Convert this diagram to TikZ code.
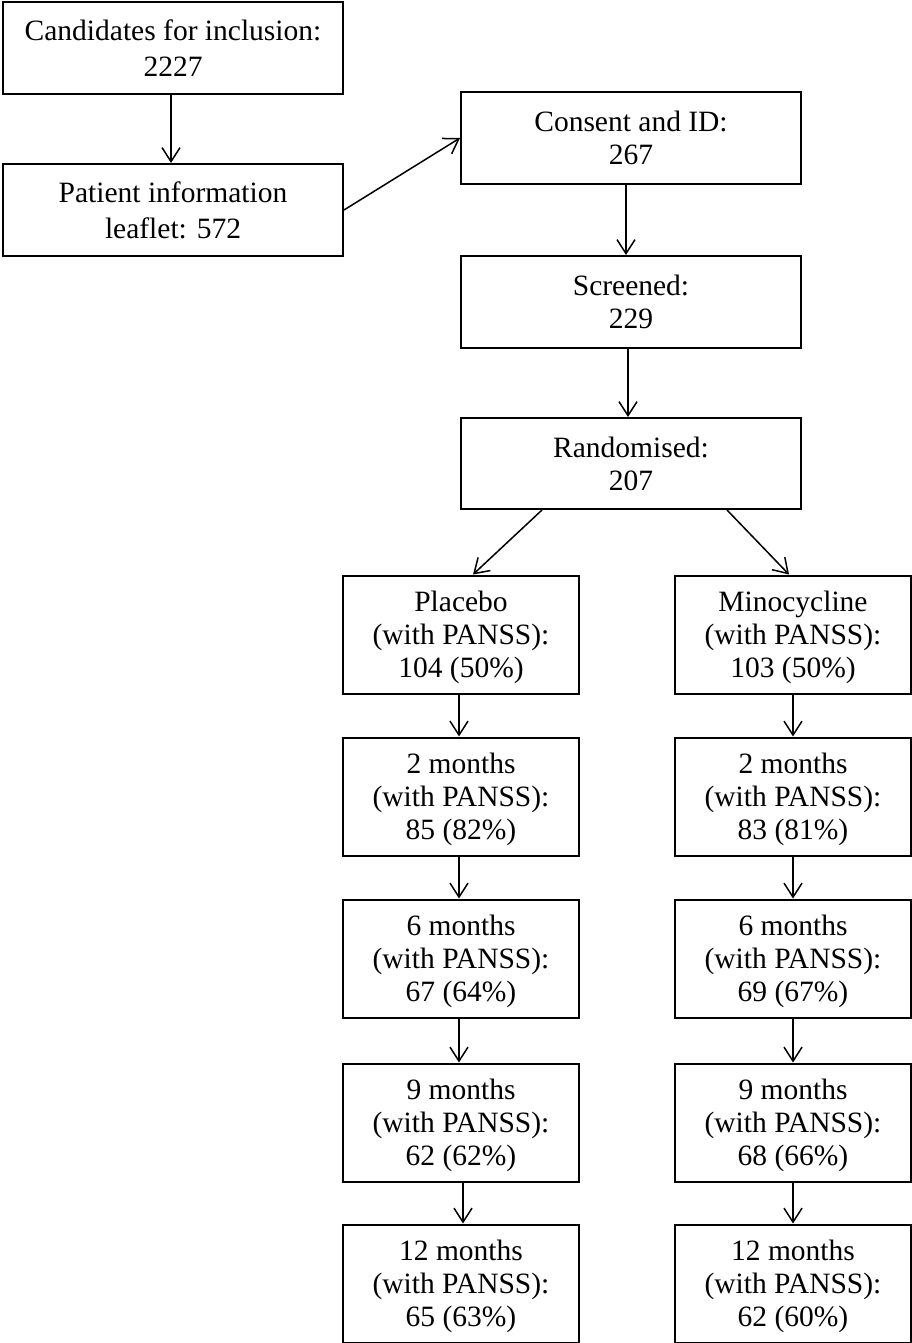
\documentclass[tikz,border=0pt]{standalone}
\usepackage{fontspec}
\setmainfont{Liberation Serif}
\usetikzlibrary{arrows.meta}
\begin{document}
\begin{tikzpicture}[x=1pt,y=-1pt,
  box/.style={draw,line width=2pt,inner sep=0pt,align=center,
    font=\fontsize{29.5}{33}\selectfont},
  topbox/.style={box,minimum width=340pt,minimum height=92pt,
    font=\fontsize{29.5}{36}\selectfont},
  midbox/.style={box,minimum width=340pt,minimum height=92pt},
  colbox/.style={box,minimum width=236pt,minimum height=118pt,text depth=0pt},
  arr/.style={line width=1.5pt,-{Straight Barb[length=14pt,width=18pt,line width=1.5pt]}}]
\useasboundingbox (0,0) rectangle (912,1343);
\node[topbox] (cand) at (173,48) {Candidates for inclusion:\\2227};
\node[topbox] (pil) at (173,210) {Patient information\\leaflet: 572};
\node[midbox] (cons) at (631,138) {Consent and ID:\\267};
\node[midbox] (scr) at (631,302) {Screened:\\229};
\node[midbox,minimum height=91pt] (rand) at (631,463.5) {Randomised:\\207};
\node[colbox] (p0) at (461,634.5) {Placebo\\(with PANSS):\\104 (50\%)};
\node[colbox] (m0) at (793,634.5) {Minocycline\\(with PANSS):\\103 (50\%)};
\node[colbox] (p1) at (461,796.5) {2 months\\(with PANSS):\\85 (82\%)};
\node[colbox] (m1) at (793,796.5) {2 months\\(with PANSS):\\83 (81\%)};
\node[colbox] (p2) at (461,958.5) {6 months\\(with PANSS):\\67 (64\%)};
\node[colbox] (m2) at (793,958.5) {6 months\\(with PANSS):\\69 (67\%)};
\node[colbox] (p3) at (461,1122.5) {9 months\\(with PANSS):\\62 (62\%)};
\node[colbox] (m3) at (793,1122.5) {9 months\\(with PANSS):\\68 (66\%)};
\node[colbox] (p4) at (461,1283.5) {12 months\\(with PANSS):\\65 (63\%)};
\node[colbox] (m4) at (793,1283.5) {12 months\\(with PANSS):\\62 (60\%)};
\draw[arr] ([xshift=-2pt]cand.south) -- ([xshift=-2pt]pil.north);
\draw[arr] (pil.east) -- (cons.west);
\draw[arr] ([xshift=-5pt]cons.south) -- ([xshift=-5pt]scr.north);
\draw[arr] ([xshift=-3pt]scr.south) -- ([xshift=-3pt]rand.north);
\draw[arr] ([xshift=-89pt]rand.south) -- ([xshift=12pt]p0.north);
\draw[arr] ([xshift=96pt]rand.south) -- ([xshift=-4pt]m0.north);
\draw[arr] ([xshift=-2pt]p0.south) -- ([xshift=-2pt]p1.north);
\draw[arr] ([xshift=-2pt]p1.south) -- ([xshift=-2pt]p2.north);
\draw[arr] ([xshift=-2pt]p2.south) -- ([xshift=-2pt]p3.north);
\draw[arr] ([xshift=2pt]p3.south) -- ([xshift=2pt]p4.north);
\draw[arr] (m0.south) -- (m1.north);
\draw[arr] (m1.south) -- (m2.north);
\draw[arr] (m2.south) -- (m3.north);
\draw[arr] (m3.south) -- (m4.north);
\end{tikzpicture}
\end{document}
